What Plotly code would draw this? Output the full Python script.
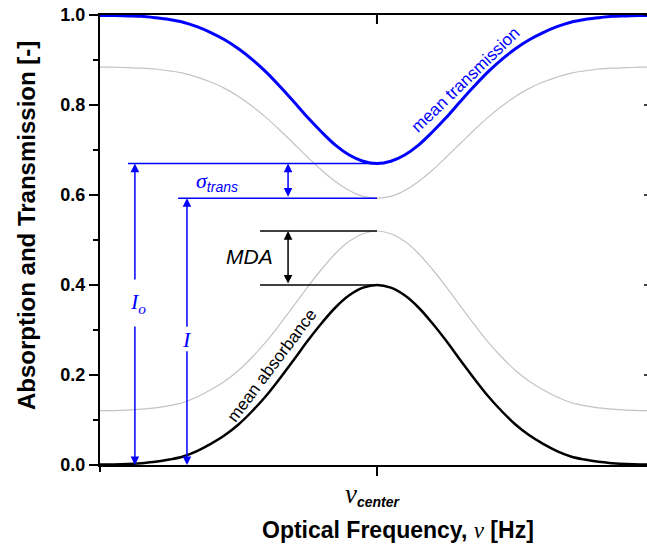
import plotly.graph_objects as go

# ---------------- data ----------------
x_freq = [-1.00, -0.95, -0.90, -0.85, -0.80, -0.75, -0.70, -0.65, -0.60, -0.55,
          -0.50, -0.45, -0.40, -0.35, -0.30, -0.25, -0.20, -0.15, -0.10, -0.05,
          0.00, 0.05, 0.10, 0.15, 0.20, 0.25, 0.30, 0.35, 0.40, 0.45,
          0.50, 0.55, 0.60, 0.65, 0.70, 0.75, 0.80, 0.85, 0.90, 0.95, 1.00]

mean_absorbance = [0.001, 0.001, 0.002, 0.004, 0.007, 0.012, 0.019, 0.031, 0.047, 0.066,
                   0.090, 0.120, 0.154, 0.193, 0.234, 0.276, 0.315, 0.350, 0.377, 0.394,
                   0.400, 0.394, 0.377, 0.350, 0.315, 0.276, 0.234, 0.193, 0.154, 0.120,
                   0.090, 0.066, 0.047, 0.031, 0.019, 0.012, 0.007, 0.004, 0.002, 0.001, 0.001]

absorbance_plus_mda = [0.121, 0.121, 0.122, 0.124, 0.127, 0.132, 0.139, 0.151, 0.167, 0.186,
                       0.210, 0.240, 0.274, 0.313, 0.354, 0.396, 0.435, 0.470, 0.497, 0.514,
                       0.520, 0.514, 0.497, 0.470, 0.435, 0.396, 0.354, 0.313, 0.274, 0.240,
                       0.210, 0.186, 0.167, 0.151, 0.139, 0.132, 0.127, 0.124, 0.122, 0.121, 0.121]

mean_transmission = [0.999, 0.999, 0.998, 0.997, 0.994, 0.990, 0.984, 0.974, 0.961, 0.945,
                     0.925, 0.901, 0.873, 0.841, 0.807, 0.772, 0.740, 0.711, 0.689, 0.675,
                     0.670, 0.675, 0.689, 0.711, 0.740, 0.772, 0.807, 0.841, 0.873, 0.901,
                     0.925, 0.945, 0.961, 0.974, 0.984, 0.990, 0.994, 0.997, 0.998, 0.999, 0.999]

transmission_minus_sigma = [0.884, 0.884, 0.883, 0.882, 0.880, 0.876, 0.871, 0.862, 0.851, 0.837,
                            0.819, 0.797, 0.772, 0.744, 0.714, 0.684, 0.655, 0.630, 0.610, 0.597,
                            0.593, 0.597, 0.610, 0.630, 0.655, 0.684, 0.714, 0.744, 0.772, 0.797,
                            0.819, 0.837, 0.851, 0.862, 0.871, 0.876, 0.880, 0.882, 0.883, 0.884, 0.884]

# reference levels (values at the line centre)
T_mean_min = 0.670   # I_o
T_low_min = 0.593    # I
A_high_max = 0.520
A_mean_max = 0.400

y_tick_vals = [0.0, 0.2, 0.4, 0.6, 0.8, 1.0]
y_tick_text = ["0.0", "0.2", "0.4", "0.6", "0.8", "1.0"]

# ---------------- figure ----------------
SANS = "Liberation Sans, Arial, sans-serif"
SERIF = "Liberation Serif, Times New Roman, serif"
BLUE = "#0000ff"
GRAY = "#c3c3c3"

fig = go.Figure()
fig.add_trace(go.Scatter(x=x_freq, y=transmission_minus_sigma, mode="lines",
                         line=dict(color=GRAY, width=1.2, shape="spline"), hoverinfo="skip"))
fig.add_trace(go.Scatter(x=x_freq, y=absorbance_plus_mda, mode="lines",
                         line=dict(color=GRAY, width=1.2, shape="spline"), hoverinfo="skip"))
fig.add_trace(go.Scatter(x=x_freq, y=mean_transmission, mode="lines",
                         line=dict(color=BLUE, width=3, shape="spline"), hoverinfo="skip"))
fig.add_trace(go.Scatter(x=x_freq, y=mean_absorbance, mode="lines",
                         line=dict(color="black", width=2.5, shape="spline"), hoverinfo="skip"))

# horizontal reference lines
fig.add_shape(type="line", xref="x", yref="y", x0=-0.899, x1=0, y0=T_mean_min, y1=T_mean_min,
              line=dict(color=BLUE, width=1.5))
fig.add_shape(type="line", xref="x", yref="y", x0=-0.718, x1=0, y0=T_low_min, y1=T_low_min,
              line=dict(color=BLUE, width=1.5))
fig.add_shape(type="line", xref="x", yref="y", x0=-0.422, x1=0, y0=A_high_max, y1=A_high_max,
              line=dict(color="black", width=1.5))
fig.add_shape(type="line", xref="x", yref="y", x0=-0.422, x1=0, y0=A_mean_max, y1=A_mean_max,
              line=dict(color="black", width=1.5))
# inward tick on the top axis
fig.add_shape(type="line", xref="x", yref="y", x0=0, x1=0, ysizemode="pixel", yanchor=1,
              y0=0, y1=-9, line=dict(color="black", width=2))
# inward tick stubs of the (cropped) right axis
for v in y_tick_vals:
    fig.add_shape(type="line", xref="paper", yref="y", xsizemode="pixel", xanchor=1,
                  x0=-3, x1=0, y0=v, y1=v, line=dict(color="black", width=1.5))


def arrow(x, y_tail, y_head, color, both=False):
    fig.add_annotation(x=x, y=y_head, ax=x, ay=y_tail, xref="x", yref="y", axref="x", ayref="y",
                       text="", showarrow=True, arrowhead=2, arrowsize=1.15, arrowwidth=1.5,
                       arrowcolor=color, arrowside="end+start" if both else "end",
                       startarrowhead=2, startarrowsize=1.15)


# I_o arrow (broken around label)
arrow(-0.874, 0.409, T_mean_min, BLUE)
arrow(-0.874, 0.311, 0.0, BLUE)
# I arrow
arrow(-0.686, 0.304, T_low_min, BLUE)
arrow(-0.686, 0.256, 0.0, BLUE)
# sigma_trans double arrow
arrow(-0.321, T_low_min, T_mean_min, BLUE, both=True)
# MDA double arrow
arrow(-0.321, A_mean_max, A_high_max, "black", both=True)

# labels
fig.add_annotation(x=-0.863, y=0.36, xref="x", yref="y", showarrow=False,
                   text="<i>I</i><sub><i>o</i></sub>", font=dict(family=SERIF, size=22, color=BLUE))
fig.add_annotation(x=-0.686, y=0.28, xref="x", yref="y", showarrow=False,
                   text="<i>I</i>", font=dict(family=SERIF, size=22, color=BLUE))
fig.add_annotation(x=-0.578, y=0.631, xref="x", yref="y", showarrow=False,
                   text='<span style="font-family:Liberation Serif;font-size:22px"><i>σ</i></span>'
                        '<sub><i>trans</i></sub>',
                   font=dict(family=SANS, size=20, color=BLUE))
fig.add_annotation(x=-0.462, y=0.464, xref="x", yref="y", showarrow=False,
                   text="<i>MDA</i>", font=dict(family=SANS, size=21, color="black"))
fig.add_annotation(x=0.321, y=0.857, xref="x", yref="y", showarrow=False, textangle=-44,
                   xanchor="center", yanchor="middle",
                   text="mean transmission", font=dict(family=SANS, size=17, color=BLUE))
fig.add_annotation(x=-0.379, y=0.221, xref="x", yref="y", showarrow=False, textangle=-53,
                   xanchor="center", yanchor="middle",
                   text="mean absorbance", font=dict(family=SANS, size=17, color="black"))

# x tick label nu_center
fig.add_annotation(x=-0.123, y=0, xref="x", yref="paper", xanchor="left", yanchor="top", yshift=-12,
                   showarrow=False,
                   text='<span style="font-family:Liberation Serif;font-size:27px"><i>ν</i></span>'
                        '<sub><b><i>center</i></b></sub>',
                   font=dict(family=SANS, size=20, color="black"))
# axis titles
fig.add_annotation(x=0.076, y=0, xref="x", yref="paper", xanchor="center", yanchor="middle",
                   yshift=-65, showarrow=False,
                   text='<b>Optical Frequency, </b><span style="font-family:Liberation Serif">'
                        '<i>ν</i></span><b> [Hz]</b>',
                   font=dict(family=SANS, size=23, color="black"))
fig.add_annotation(x=0, y=0.531, xref="paper", yref="paper", xanchor="center", yanchor="middle",
                   xshift=-74, textangle=-90, showarrow=False,
                   text="<b>Absorption and Transmission [-]</b>",
                   font=dict(family=SANS, size=24, color="black"))

fig.update_layout(
    width=647, height=548,
    margin=dict(l=100, r=0, t=15, b=83, pad=0),
    plot_bgcolor="white", paper_bgcolor="white",
    showlegend=False,
    xaxis=dict(range=[-1, 0.975], showline=True, linecolor="black", linewidth=2, mirror=True,
               ticks="outside", tickmode="array", tickvals=[0], ticktext=[""], ticklen=9,
               tickwidth=2, tickcolor="black", showgrid=False, zeroline=False,
               minor=dict(ticks="outside", tick0=0, dtick=1, ticklen=5, tickwidth=2,
                          tickcolor="black", showgrid=False)),
    yaxis=dict(range=[0, 1], showline=True, linecolor="black", linewidth=2,
               ticks="outside", tickmode="array", tickvals=y_tick_vals, ticktext=y_tick_text,
               ticklen=9, tickwidth=2, tickcolor="black", showgrid=False, zeroline=False,
               tickfont=dict(family=SANS, size=18, color="black", weight="bold"),
               minor=dict(ticks="outside", tick0=0, dtick=0.1, ticklen=5, tickwidth=2,
                          tickcolor="black", showgrid=False)),
)

fig.write_html("out.html")
